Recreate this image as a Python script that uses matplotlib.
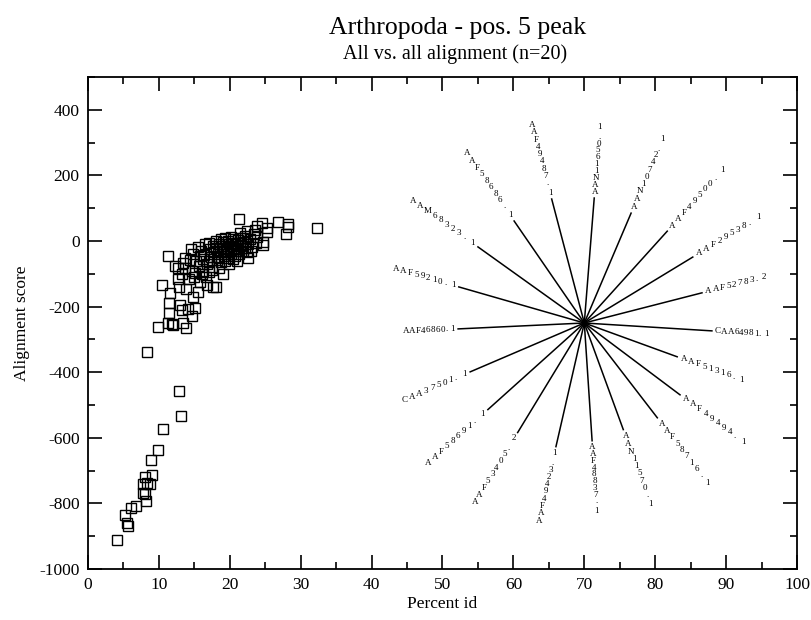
import numpy as np
import matplotlib
matplotlib.use("Agg")
import matplotlib.pyplot as plt
from matplotlib.ticker import MultipleLocator

plt.rcParams["font.family"] = "serif"
plt.rcParams["font.serif"] = ["Liberation Serif", "DejaVu Serif"]
plt.rcParams["axes.unicode_minus"] = False

# all vs. all pairs: percent identity / alignment score
pct_id = [4.1, 5.2, 5.5, 5.6, 6.1, 6.8, 8.2, 7.8, 8.0, 7.8, 8.3, 8.7, 8.0, 9.0, 8.9, 9.9, 10.6, 13.1, 12.8, 8.3,
          9.9, 11.3, 11.8, 12.0, 13.4, 13.8, 11.4, 14.7, 13.0, 13.3, 14.1, 15.1, 11.6, 11.4, 10.4, 12.7, 13.8, 14.8,
          15.5, 15.8, 16.8, 17.6, 18.1, 15.1, 16.1, 19.0, 17.5, 18.5, 13.4, 13.7, 12.7, 11.3, 13.7, 14.4, 14.5, 15.5, 12.3,
          21.3, 23.8, 24.5, 25.2, 25.2, 26.8, 28.2, 28.2, 27.9, 32.3, 22.4, 21.4, 23.6, 23.8, 24.7, 24.7, 23.1, 22.6,
          21.9, 22.1, 21.4,
          16.0, 16.2, 16.5, 16.8, 16.4,
          17.0, 17.2, 17.4, 17.1, 17.6, 17.8, 17.5,
          18.0, 18.1, 18.3, 18.2, 18.5, 18.6, 18.4, 18.8, 18.9, 18.7,
          19.0, 19.1, 19.2, 19.3, 19.4, 19.5, 19.6, 19.7, 19.8, 19.9, 19.3,
          20.0, 20.1, 20.2, 20.3, 20.4, 20.5, 20.6, 20.7, 20.8, 20.9, 20.2,
          21.0, 21.1, 21.2, 21.3, 21.5, 21.6, 21.8, 21.9, 21.0,
          22.2, 22.5, 22.8, 23.0, 22.4, 23.4, 23.7,
          14.8, 15.2, 15.6, 15.0, 16.2, 15.8, 14.6, 17.0, 16.6, 14.2, 13.2, 12.9]
score = [-913, -834, -861, -870, -815, -809, -794, -767, -770, -740, -737, -740, -718, -712, -669, -636, -572, -535, -456, -338,
         -262, -250, -253, -256, -250, -265, -219, -228, -195, -210, -207, -204, -158, -189, -134, -116, -146, -170,
         -155, -125, -134, -140, -140, -97, -100, -100, -88, -82, -67, -82, -82, -46, -52, -58, -24, -18, -75,
         67, 46, 55, 40, 27, 58, 52, 43, 21, 40, 30, 24, 33, 12, -3, -12, -18, -52,
         9, -21, -12,
         -30, -55, -10, -70, -42,
         -5, -25, -48, -62, -15, -35, -78,
         0, -20, -40, -58, -8, -30, -50, -65, -15, 5,
         -2, -25, -45, -60, -10, -35, -20, -52, 0, -70, 10,
         -15, -40, -28, -5, -55, 5, -22, -45, -10, -32, 12,
         -5, -25, 2, -40, -15, 10, -30, -2, -60,
         15, -8, 5, -30, -35, 20, -5,
         -40, -60, -75, -110, -90, -45, -90, -95, -110, -115, -100, -140]

# star tree drawn in data space
tree_center = (70, -250)
leaf_ids = ["AAF46860.1", "AAF59210.1", "AAM68323.1", "AAF58686.1", "AAF49487.1",
            "AAN11650.1", "AAN10742.1", "AAF49500.1", "AAF29538.1", "AAF52783.2",
            "CAA64981.1", "AAF51316.1", "AAF49494.1", "AAF58716.1", "AAN11570.1",
            "AAF48837.1", "AAF49423.1", "AAF53405.2", "AAF58691.1", "CAA37501.1"]
leaf_x = [52.2, 52.3, 55.0, 60.1, 65.4, 71.4, 76.6, 81.7, 85.3, 86.6,
          88.0, 83.1, 83.5, 80.3, 75.5, 71.1, 66.0, 60.6, 56.4, 53.9]
leaf_y = [-268, -140, -18, 61, 128, 131, 85, 30, -49, -158,
          -274, -353, -469, -539, -575, -609, -627, -584, -514, -399]

fig = plt.figure(figsize=(8.12, 6.2), dpi=100)
ax = fig.add_axes([88 / 812, 1 - 569 / 620, (797 - 88) / 812, (569 - 77) / 620])

ax.plot(pct_id, score, ls="none", marker="s", ms=6.5, mfc="none", mec="black", mew=1.0)

cx, cy = tree_center
for x, y in zip(leaf_x, leaf_y):
    ax.plot([cx, x], [cy, y], color="black", lw=1.1)

ax.set_xlim(0, 100)
ax.set_ylim(-1000, 500)
ax.xaxis.set_major_locator(MultipleLocator(10))
ax.xaxis.set_minor_locator(MultipleLocator(5))
ax.set_yticks(range(-1000, 401, 200))
ax.yaxis.set_minor_locator(MultipleLocator(100))
ax.tick_params(which="both", direction="in", top=True, right=True, width=1.2)
ax.tick_params(which="major", length=10, labelsize=12.5, pad=6)
ax.tick_params(which="minor", length=5)
for s in ax.spines.values():
    s.set_linewidth(1.3)

ax.set_xlabel("Percent id", fontsize=12.5, labelpad=2)
ax.set_ylabel("Alignment score", fontsize=12.5, labelpad=7)

fig.text(0.564, 1 - 28 / 620, "Arthropoda - pos. 5 peak", fontsize=18.5, ha="center", va="center")
fig.text(0.560, 1 - 54 / 620, "All vs. all alignment (n=20)", fontsize=14.5, ha="center", va="center")

# leaf labels: upright glyphs stepped along the branch direction
char_w = {"A": 6.0, "C": 6.0, "M": 7.0, "N": 6.0, "F": 5.0, ".": 2.5, " ": 2.5}
p0 = ax.transData.transform(tree_center)
for lab, x, y in zip(leaf_ids, leaf_x, leaf_y):
    p1 = ax.transData.transform((x, y))
    d = (p1 - p0) / np.hypot(*(p1 - p0))
    text = lab.replace(".", ". ")
    chars = text if d[0] >= -0.02 else text[::-1]
    dist = 3.0
    for ch in chars:
        w = char_w.get(ch, 4.5)
        h = 2.5 if ch == " " else 6.5
        adv = w * abs(d[0]) + h * abs(d[1])
        off = d * (dist + adv / 2) * 72 / 100
        if ch != " ":
            ax.annotate(ch, xy=(x, y), xytext=(off[0], off[1]), textcoords="offset points",
                        ha="center", va="center", fontsize=6.5)
        dist += adv

fig.savefig("out.png", dpi=100)
